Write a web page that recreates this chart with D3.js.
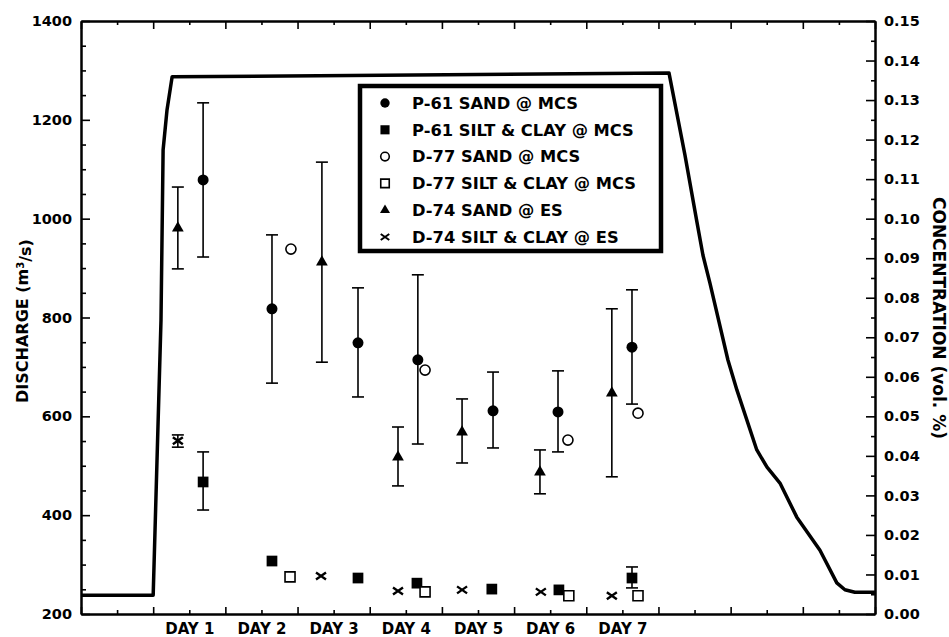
<!DOCTYPE html>
<html>
<head>
<meta charset="utf-8">
<script src="https://cdn.jsdelivr.net/npm/d3@7"></script>
<style>
  body { margin: 0; background: #fff; }
  svg text { font-family: "DejaVu Sans", sans-serif; font-weight: bold; fill: #000; }
</style>
</head>
<body>
<div class="container"></div>
<script>
// DATA (time in hours from start, discharge in m3/s, concentration in vol. %)

const dischargeHours  = [0, 24, 26.6, 27.3, 28.6, 30.3, 195.5, 200.8, 204.8, 206.8, 209.1, 215.1, 218.1, 224.7, 228.1, 232.4, 238, 245.7, 251.3, 254, 257.3, 264];
const dischargeValues = [238, 238, 795, 1139, 1220, 1287, 1295, 1129, 993, 926, 870, 714, 653, 532, 497, 465, 396, 329, 263, 249, 244, 244];

// t = hour, c = concentration, lo/hi = error bar ends
const p61Sand = [
  {t: 40.6, c: 0.1098, lo: 0.0903, hi: 0.1293},
  {t: 63.5, c: 0.0772, lo: 0.0584, hi: 0.0959},
  {t: 92.1, c: 0.0686, lo: 0.0549, hi: 0.0825},
  {t: 112,  c: 0.0643, lo: 0.0430, hi: 0.0858},
  {t: 137,  c: 0.0514, lo: 0.0420, hi: 0.0612},
  {t: 158.6, c: 0.0511, lo: 0.0410, hi: 0.0615},
  {t: 183.2, c: 0.0675, lo: 0.0531, hi: 0.0820}
];
const p61Silt = [
  {t: 40.6, c: 0.0334, lo: 0.0263, hi: 0.0410},
  {t: 63.5, c: 0.0134},
  {t: 92.1, c: 0.0091},
  {t: 111.7, c: 0.0078},
  {t: 136.6, c: 0.0063},
  {t: 158.9, c: 0.0061},
  {t: 183.2, c: 0.0091, lo: 0.0066, hi: 0.0119}
];
const d77Sand = [
  {t: 69.8, c: 0.0923},
  {t: 114.4, c: 0.0617},
  {t: 161.9, c: 0.0440},
  {t: 185.2, c: 0.0508}
];
const d77Silt = [
  {t: 69.5, c: 0.0094},
  {t: 114.4, c: 0.0056},
  {t: 162.2, c: 0.0046},
  {t: 185.2, c: 0.0046}
];
const d74Sand = [
  {t: 32.2, c: 0.0976, lo: 0.0873, hi: 0.1080},
  {t: 80.1, c: 0.0890, lo: 0.0637, hi: 0.1143},
  {t: 105.4, c: 0.0397, lo: 0.0324, hi: 0.0473},
  {t: 126.7, c: 0.0460, lo: 0.0382, hi: 0.0544},
  {t: 152.6, c: 0.0359, lo: 0.0304, hi: 0.0415},
  {t: 176.5, c: 0.0559, lo: 0.0347, hi: 0.0772}
];
const d74Silt = [
  {t: 32.2, c: 0.0438, lo: 0.0422, hi: 0.0453},
  {t: 79.8, c: 0.0096},
  {t: 105.4, c: 0.0058},
  {t: 126.7, c: 0.0061},
  {t: 152.9, c: 0.0056},
  {t: 176.5, c: 0.0046}
];

const dayLabels = ["DAY 1", "DAY 2", "DAY 3", "DAY 4", "DAY 5", "DAY 6", "DAY 7"];
const dayLabelHours = [36, 60, 84, 108, 132, 156, 180];

const legendLabels = [
  "P-61 SAND @ MCS",
  "P-61 SILT & CLAY @ MCS",
  "D-77 SAND @ MCS",
  "D-77 SILT & CLAY @ MCS",
  "D-74 SAND @ ES",
  "D-74 SILT & CLAY @ ES"
];

// SETUP

const margin = {top: 21, right: 74, bottom: 23, left: 81};
const width = 949 - margin.left - margin.right,
      height = 637 - margin.top - margin.bottom;

const svg = d3.select("div.container")
  .append("svg")
  .attr("width", 949)
  .attr("height", 637);

const g = svg.append("g")
  .attr("transform", `translate(${margin.left}, ${margin.top})`);

const x = d3.scaleLinear().domain([0, 264]).range([0, width]);
const yQ = d3.scaleLinear().domain([200, 1400]).range([height, 0]);
const yC = d3.scaleLinear().domain([0, 0.15]).range([height, 0]);

// AXES (all ticks point inward)

function styleAxis(sel, size) {
  sel.attr("font-family", null).attr("font-size", size);
  sel.select(".domain").attr("stroke-width", 2);
  sel.selectAll(".tick line").attr("stroke-width", 1.6);
}

const majorHours = d3.range(0, 265, 24);
const minorHours = d3.range(12, 264, 24);

// left: discharge
g.append("g")
  .call(d3.axisLeft(yQ).tickValues(d3.range(200, 1401, 200)).tickSize(-9).tickSizeOuter(0).tickPadding(9).tickFormat(d3.format("d")))
  .call(styleAxis, 14.5);
g.append("g")
  .call(d3.axisLeft(yQ).tickValues(d3.range(250, 1400, 50).filter(d => d % 200 !== 0)).tickSize(-5).tickSizeOuter(0).tickFormat(""))
  .call(styleAxis, 14.5);

// right: concentration
g.append("g")
  .attr("transform", `translate(${width}, 0)`)
  .call(d3.axisRight(yC).tickValues(d3.range(16).map(i => i / 100)).tickSize(-9).tickSizeOuter(0).tickPadding(9).tickFormat(d3.format(".2f")))
  .call(styleAxis, 14.5);
g.append("g")
  .attr("transform", `translate(${width}, 0)`)
  .call(d3.axisRight(yC).tickValues(d3.range(15).map(i => i / 100 + 0.005)).tickSize(-4).tickSizeOuter(0).tickFormat(""))
  .call(styleAxis, 14.5);

// bottom: time
g.append("g")
  .attr("transform", `translate(0, ${height})`)
  .call(d3.axisBottom(x).tickValues(majorHours).tickSize(-7).tickSizeOuter(0).tickFormat(""))
  .call(styleAxis, 15);
g.append("g")
  .attr("transform", `translate(0, ${height})`)
  .call(d3.axisBottom(x).tickValues(minorHours).tickSize(-4).tickSizeOuter(0).tickPadding(9)
    .tickFormat(d => {
      const i = dayLabelHours.indexOf(d);
      return i >= 0 ? dayLabels[i] : "";
    }))
  .call(styleAxis, 15);

// top: mirror of time ticks
g.append("g")
  .call(d3.axisTop(x).tickValues(majorHours).tickSize(-8).tickSizeOuter(0).tickFormat(""))
  .call(styleAxis, 15);
g.append("g")
  .call(d3.axisTop(x).tickValues(minorHours).tickSize(-4).tickSizeOuter(0).tickFormat(""))
  .call(styleAxis, 15);

// axis titles
const leftTitle = svg.append("text")
  .attr("transform", "translate(28, 321) rotate(-90)")
  .attr("text-anchor", "middle")
  .style("font-size", "16px");
leftTitle.append("tspan").text("DISCHARGE (m");
leftTitle.append("tspan").attr("dy", "-0.45em").style("font-size", "10px").text("3");
leftTitle.append("tspan").attr("dy", "0.45em").text("/s)");

svg.append("text")
  .attr("transform", "translate(933, 318) rotate(90)")
  .attr("text-anchor", "middle")
  .style("font-size", "17px")
  .text("CONCENTRATION (vol. %)");

// DISCHARGE LINE

const line = d3.line()
  .x((d, i) => x(dischargeHours[i]))
  .y(d => yQ(d));

g.append("path")
  .datum(dischargeValues)
  .attr("d", line)
  .attr("fill", "none")
  .attr("stroke", "#000")
  .attr("stroke-width", 3.5)
  .attr("stroke-linejoin", "round");

// MARKERS

const xPath = "M-5,-3.5L5,3.5M-5,3.5L5,-3.5";

const series = [
  {data: p61Sand, type: d3.symbolCircle, size: 95, fill: "#000", stroke: "none"},
  {data: p61Silt, type: d3.symbolSquare, size: 115, fill: "#000", stroke: "none"},
  {data: d77Sand, type: d3.symbolCircle, size: 80, fill: "#fff", stroke: "#000"},
  {data: d77Silt, type: d3.symbolSquare, size: 100, fill: "#fff", stroke: "#000"},
  {data: d74Sand, type: d3.symbolTriangle, size: 60, fill: "#000", stroke: "none"},
  {data: d74Silt, type: null, fill: "none", stroke: "#000"}
];

// error bars first
series.forEach(s => {
  const bars = g.append("g")
    .selectAll("g")
    .data(s.data.filter(d => d.lo !== undefined))
    .enter()
    .append("g")
    .attr("stroke", "#000")
    .attr("stroke-width", 1.6);
  bars.append("line")
    .attr("x1", d => x(d.t)).attr("x2", d => x(d.t))
    .attr("y1", d => yC(d.lo)).attr("y2", d => yC(d.hi));
  bars.append("line")
    .attr("x1", d => x(d.t) - 6).attr("x2", d => x(d.t) + 6)
    .attr("y1", d => yC(d.lo)).attr("y2", d => yC(d.lo));
  bars.append("line")
    .attr("x1", d => x(d.t) - 6).attr("x2", d => x(d.t) + 6)
    .attr("y1", d => yC(d.hi)).attr("y2", d => yC(d.hi));
});

function drawMarker(sel, s, scale) {
  if (s.type) {
    sel.append("path")
      .attr("d", d3.symbol(s.type, s.size * scale * scale))
      .attr("fill", s.fill)
      .attr("stroke", s.stroke)
      .attr("stroke-width", 1.6);
  } else {
    sel.append("path")
      .attr("d", xPath)
      .attr("transform", `scale(${scale})`)
      .attr("fill", "none")
      .attr("stroke", "#000")
      .attr("stroke-width", 2.4);
  }
}

series.forEach(s => {
  g.append("g")
    .selectAll("g")
    .data(s.data)
    .enter()
    .append("g")
    .attr("transform", d => `translate(${x(d.t)}, ${yC(d.c)})`)
    .each(function () { drawMarker(d3.select(this), s, 1); });
});

// LEGEND

const legend = svg.append("g")
  .attr("transform", "translate(360, 86)");

legend.append("rect")
  .attr("width", 301)
  .attr("height", 165)
  .attr("fill", "#fff")
  .attr("stroke", "#000")
  .attr("stroke-width", 4.5);

const rows = legend.selectAll("g.row")
  .data(legendLabels)
  .enter()
  .append("g")
  .attr("class", "row")
  .attr("transform", (d, i) => `translate(0, ${17 + i * 26.8})`);

rows.each(function (d, i) {
  const m = d3.select(this).append("g").attr("transform", "translate(25, 0)");
  drawMarker(m, series[i], 0.85);
});

rows.append("text")
  .attr("x", 52)
  .attr("dy", "0.36em")
  .style("font-size", "16.3px")
  .text(d => d);
</script>
</body>
</html>
